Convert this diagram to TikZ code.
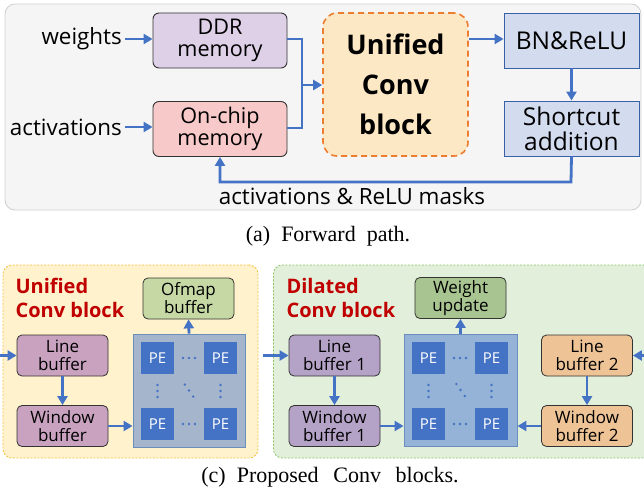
\documentclass[tikz,border=0pt]{standalone}
\usepackage{fontspec}
\setmainfont{Liberation Serif}
\newfontfamily\uisans{Open Sans}
\usetikzlibrary{arrows.meta,positioning,calc}
\definecolor{arrowblue}{HTML}{4472C4}
\definecolor{darkred}{HTML}{C00000}
\definecolor{bnfill}{HTML}{D3DCEF}
\definecolor{ddrfill}{HTML}{DDD0E7}
\definecolor{onchipfill}{HTML}{F8C9C9}
\definecolor{ucborange}{HTML}{ED7D31}
\definecolor{ucbfill}{HTML}{FCE8C4}
\definecolor{yregdraw}{HTML}{F5C342}
\definecolor{yregfill}{HTML}{FFF2CC}
\definecolor{ofmapfill}{HTML}{C6D9A4}
\definecolor{mauvefill}{HTML}{C8A2BF}
\definecolor{padraw}{HTML}{6C8EBF}
\definecolor{pafill}{HTML}{A5B5CC}
\definecolor{gregdraw}{HTML}{8CC56A}
\definecolor{gregfill}{HTML}{E2EFDA}
\definecolor{wufill}{HTML}{A8C490}
\definecolor{lavfill}{HTML}{B4A2C7}
\definecolor{pbfill}{HTML}{95B3D7}
\definecolor{tanfill}{HTML}{EEC497}
\tikzset{
  conn/.style={draw=arrowblue,line width=2.8pt,-{Triangle[length=9pt,width=10pt]}},
  plain/.style={draw=arrowblue,line width=2.8pt},
  memboxA/.style={draw=black!80,line width=0.9pt,rounded corners=6pt,minimum width=134pt,minimum height=55pt,align=center,inner sep=1pt,font=\uisans\fontsize{21.6}{22}\selectfont},
  bluebox/.style={draw=arrowblue!85!black,line width=0.9pt,fill=bnfill,minimum width=135pt,minimum height=55pt,align=center,inner sep=1pt,font=\uisans\fontsize{24.5}{25}\selectfont},
  smallbox/.style={draw=black!80,line width=0.8pt,rounded corners=5pt,minimum width=91pt,minimum height=41pt,align=center,inner sep=1pt,font=\uisans\fontsize{17}{18}\selectfont},
  pebox/.style={fill=arrowblue,minimum width=33pt,minimum height=32pt,inner sep=0pt,text=white,font=\uisans\fontsize{15}{16}\selectfont},
  region/.style={rounded corners=9pt,line width=0.8pt,dashed},
  redlabel/.style={text=darkred,anchor=west,align=left,font=\uisans\bfseries\fontsize{20}{24}\selectfont},
  lbl/.style={font=\uisans\fontsize{22.4}{24}\selectfont},
  captionsty/.style={font=\fontsize{22}{24}\selectfont},
  pedot/.style={fill=arrowblue,circle,inner sep=0pt,minimum size=2.6pt}
}
\begin{document}
\begin{tikzpicture}[x=1pt,y=-1pt]
\useasboundingbox (0,0) rectangle (644,495);
% ---------- top panel ----------
\node[draw=black!18,line width=0.9pt,fill=black!4,rounded corners=10pt,minimum width=636pt,minimum height=206pt,inner sep=0pt] (toppanel) at (323,107) {};
\node[memboxA,fill=ddrfill] (ddr) at (220,40.5) {DDR\\memory};
\node[memboxA,fill=onchipfill] (onchip) at (220,129) {On-chip\\memory};
\node[draw=ucborange,dash pattern=on 6pt off 4pt,line width=1.6pt,fill=ucbfill,rounded corners=14pt,minimum width=145pt,minimum height=143pt,align=center,font=\uisans\bfseries\fontsize{27}{40}\selectfont] (ucb) at (395.5,84.5) {Unified\\Conv\\block};
\node[bluebox] (bn) at (571.5,40.5) {BN\&ReLU};
\node[bluebox] (sc) at (571.5,128.5) {Shortcut\\addition};
\node[lbl,anchor=east,inner sep=0pt] (wt) at (122,39) {weights};
\node[lbl,anchor=east,inner sep=0pt] (act) at (122,127) {activations};
\coordinate (fork) at (302,85);
\coordinate (ret) at (571,182);
\draw[conn] (wt.east) ++(3,0) -- (ddr.west |- wt.east);
\draw[conn] (act.east) ++(3,0) -- (onchip.west |- act.east);
\draw[plain] (ddr.east |- 0,39) -| (fork);
\draw[plain] (onchip.east |- 0,128) -| (fork);
\draw[conn] (fork) -- (ucb.west |- fork);
\draw[conn] (ucb.east |- 0,39) -- (bn.west |- 0,39);
\draw[conn] (bn.south) -- (sc.north);
\draw[conn] (sc.south) -- (ret) -| (onchip.south);
\node[lbl] (retlbl) at (352,196.5) {activations \& ReLU masks};
\node[captionsty] (capa) at (328,236) {(a)\ \ Forward\ \ path.};
% ---------- bottom left region ----------
\node[region,draw=yregdraw,dash pattern=on 2pt off 1.5pt,fill=yregfill,minimum width=255pt,minimum height=193pt,inner sep=0pt] (yreg) at (130.5,361.5) {};
\node[redlabel] (ytitle) at (12,298) {Unified\\Conv block};
\node[smallbox,fill=ofmapfill] (ofmap) at (188.5,298.5) {Ofmap\\buffer};
\node[smallbox,fill=mauvefill] (lb) at (62.5,355.5) {Line\\buffer};
\node[smallbox,fill=mauvefill] (wb) at (62.5,426) {Window\\buffer};
\node[draw=padraw,line width=0.9pt,fill=pafill,minimum width=112pt,minimum height=113pt,inner sep=0pt] (pa) at (189,390.5) {};
\node[pebox] (pa11) at (157.5,358) {PE};
\node[pebox] (pa12) at (220.5,358) {PE};
\node[pebox] (pa21) at (157.5,424) {PE};
\node[pebox] (pa22) at (220.5,424) {PE};
\foreach \dx in {-6,0,6} {
  \node[pedot] at ($(pa11)!0.5!(pa12)+(\dx,0)$) {};
  \node[pedot] at ($(pa21)!0.5!(pa22)+(\dx,0)$) {};
  \node[pedot] at ($(pa11)!0.5!(pa21)+(0,\dx)$) {};
  \node[pedot] at ($(pa12)!0.5!(pa22)+(0,\dx)$) {};
  \node[pedot] at ($(pa)+(\dx*0.7,\dx)$) {};
}
\coordinate (inL) at (-4,355.5);
\draw[conn] (inL) -- (lb.west);
\draw[conn] (lb.south) -- (wb.north);
\draw[conn] (wb.east) -- (pa.west |- wb.east);
\draw[conn] (pa.north) -- (ofmap.south);
% ---------- bottom right region ----------
\node[region,draw=gregdraw,dash pattern=on 2pt off 1.5pt,fill=gregfill,minimum width=380pt,minimum height=193pt,inner sep=0pt,anchor=west] (greg) at (273,361.5) {};
\node[redlabel] (gtitle) at (283,298) {Dilated\\Conv block};
\node[smallbox,fill=wufill] (wu) at (460.5,298) {Weight\\update};
\node[smallbox,fill=lavfill] (lb1) at (334.5,355.5) {Line\\buffer 1};
\node[smallbox,fill=lavfill] (wb1) at (334.5,426) {Window\\buffer 1};
\node[draw=padraw,line width=0.9pt,fill=pbfill,minimum width=113pt,minimum height=112pt,inner sep=0pt] (pb) at (460.5,390) {};
\node[pebox] (pb11) at (428.5,358) {PE};
\node[pebox] (pb12) at (491.5,358) {PE};
\node[pebox] (pb21) at (428.5,424) {PE};
\node[pebox] (pb22) at (491.5,424) {PE};
\foreach \dx in {-6,0,6} {
  \node[pedot] at ($(pb11)!0.5!(pb12)+(\dx,0)$) {};
  \node[pedot] at ($(pb21)!0.5!(pb22)+(\dx,0)$) {};
  \node[pedot] at ($(pb11)!0.5!(pb21)+(0,\dx)$) {};
  \node[pedot] at ($(pb12)!0.5!(pb22)+(0,\dx)$) {};
  \node[pedot] at ($(pb)+(\dx*0.7,\dx)$) {};
}
\node[smallbox,fill=tanfill] (lb2) at (587,355.5) {Line\\buffer 2};
\node[smallbox,fill=tanfill] (wb2) at (587,426) {Window\\buffer 2};
\coordinate (inM) at (263,355.5);
\coordinate (inR) at (650,355.5);
\draw[conn] (inM) -- (lb1.west);
\draw[conn] (lb1.south) -- (wb1.north);
\draw[conn] (wb1.east) -- (pb.west |- wb1.east);
\draw[conn] (pb.north) -- (wu.south);
\draw[conn] (inR) -- (lb2.east);
\draw[conn] (lb2.south) -- (wb2.north);
\draw[conn] (wb2.west) -- (pb.east |- wb2.west);
\node[captionsty] (capc) at (330,477) {(c)\ \ Proposed\ \ \,Conv\ \ \,blocks.};
\end{tikzpicture}
\end{document}
